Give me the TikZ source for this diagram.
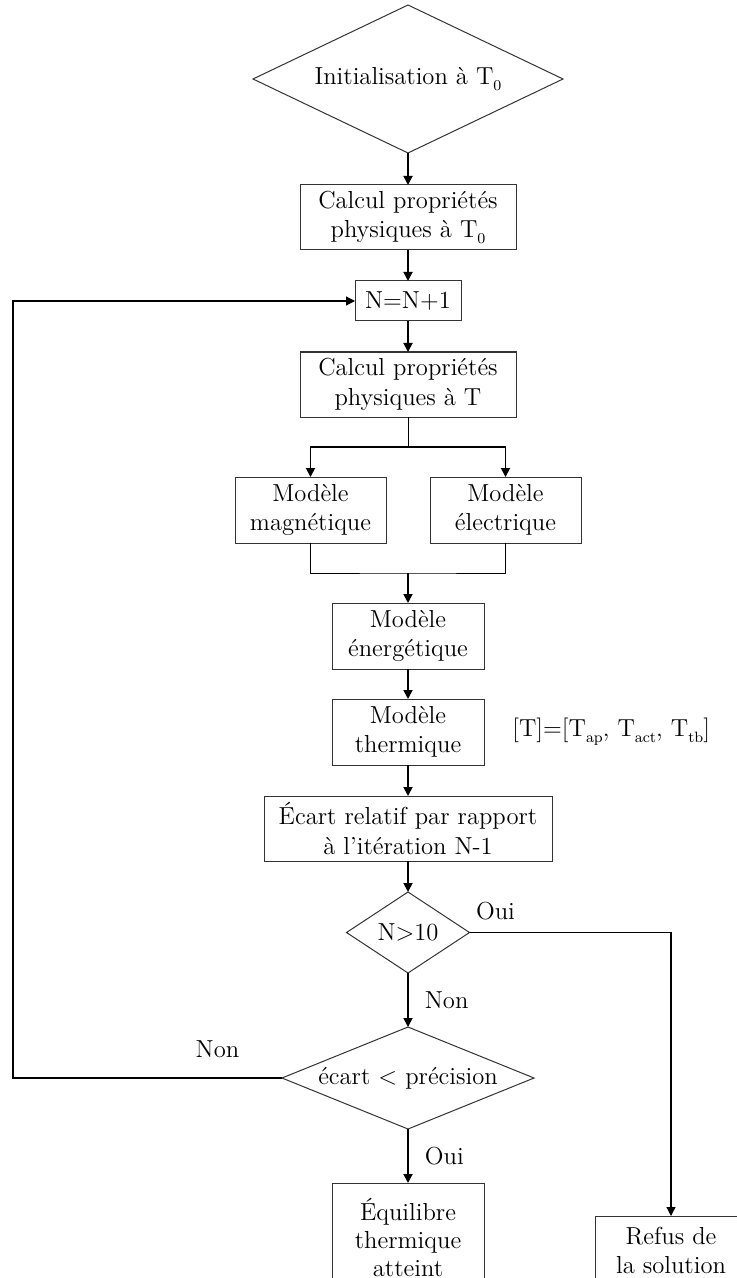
\documentclass[tikz,border=0pt]{standalone}
\usetikzlibrary{positioning,arrows.meta,shapes.geometric}
\newcommand{\tsub}[1]{\raisebox{-0.55ex}{\fontsize{7.5}{8}\selectfont #1}}

\begin{document}
\begin{tikzpicture}[x=0.5pt, y=-0.5pt,
    font=\fontsize{12.3}{14.7}\selectfont, >={Triangle[length=4.5pt,width=4.5pt]},
    every node/.style={align=center},
    box/.style={draw=black!80, line width=0.5pt, inner sep=2pt, outer sep=0pt},
    test/.style={diamond, draw=black!80, line width=0.5pt, inner sep=0pt, outer sep=0pt},
    flow/.style={->, line width=0.9pt},
    wire/.style={line width=0.5pt},
    back/.style={->, line width=0.6pt},
    lab/.style={inner sep=3pt}]
  \useasboundingbox (0,0) rectangle (736,1278);
  % main column
  \node[test, shape aspect=2.1, minimum width=155pt, minimum height=74pt] (init) at (408,79) {Initialisation à T\tsub{0}};
  \node[box, minimum width=108pt, minimum height=32.5pt, below=16pt of init] (calc0) {Calcul propriétés\\physiques à T\tsub{0}};
  \node[box, minimum width=53pt, minimum height=20pt, below=15.5pt of calc0] (niter) {N=N+1};
  \node[box, minimum width=108pt, minimum height=32.5pt, below=15.5pt of niter] (calcT) {Calcul propriétés\\physiques à T};
  \node[box, minimum width=75.5pt, minimum height=33pt, below=30pt of calcT, xshift=-48.75pt] (magn) {Modèle\\magnétique};
  \node[box, minimum width=75.5pt, minimum height=33pt, below=30pt of calcT, xshift=48.75pt] (elec) {Modèle\\électrique};
  \node[box, minimum width=76pt, minimum height=33pt, below=30pt of magn, xshift=48.75pt] (ener) {Modèle\\énergétique};
  \node[box, minimum width=76pt, minimum height=33pt, below=15pt of ener] (therm) {Modèle\\thermique};
  \node[lab, right=11pt of therm] (tvec) {[T]=[T\tsub{ap}, T\tsub{act}, T\tsub{tb}]};
  \node[box, minimum width=144pt, minimum height=32.5pt, below=15.5pt of therm] (ecart) {Écart relatif par rapport\\à l’itération N-1};
  \node[test, shape aspect=1.5, minimum width=61.5pt, minimum height=40.5pt, below=15.5pt of ecart] (n10) {N>10};
  \node[test, shape aspect=2.5, minimum width=126pt, minimum height=51pt, below=27pt of n10] (prec) {écart < précision};
  \node[box, minimum width=76pt, minimum height=54pt, below=27pt of prec, font=\fontsize{12.3}{14}\selectfont] (equil) {Équilibre\\thermique\\atteint};
  \node[box, minimum width=75.5pt, minimum height=34.5pt, anchor=north] (refus) at (671,1216) {Refus de\\la solution};
  % connectors
  \coordinate (split) at ([yshift=-15pt]calcT.south);
  \coordinate (join) at ([yshift=15pt]ener.north);
  \coordinate (rail) at (13,0);
  \draw[flow] (init) -- (calc0);
  \draw[flow] (calc0) -- (niter);
  \draw[flow] (niter) -- (calcT);
  \draw[wire] (calcT.south) -- (split);
  \draw[flow] (split) -| (magn.north);
  \draw[flow] (split) -| (elec.north);
  \draw[wire] (magn.south) |- (join) -| (elec.south);
  \draw[flow] (join) -- (ener);
  \draw[flow] (ener) -- (therm);
  \draw[flow] (therm) -- (ecart);
  \draw[flow] (ecart) -- (n10);
  \draw[flow] (n10) -- node[lab, right, xshift=5pt]{Non} (prec);
  \draw[back] (n10.east) -- node[lab, above right, pos=0, yshift=3pt]{Oui} (n10.east -| refus.north) -- (refus.north);
  \draw[flow] (prec) -- node[lab, right, xshift=5pt]{Oui} (equil);
  \draw[back] (prec.west) -- node[lab, above=7pt, pos=0.24]{Non} (prec.west -| rail) |- (niter.west);
\end{tikzpicture}
\end{document}
